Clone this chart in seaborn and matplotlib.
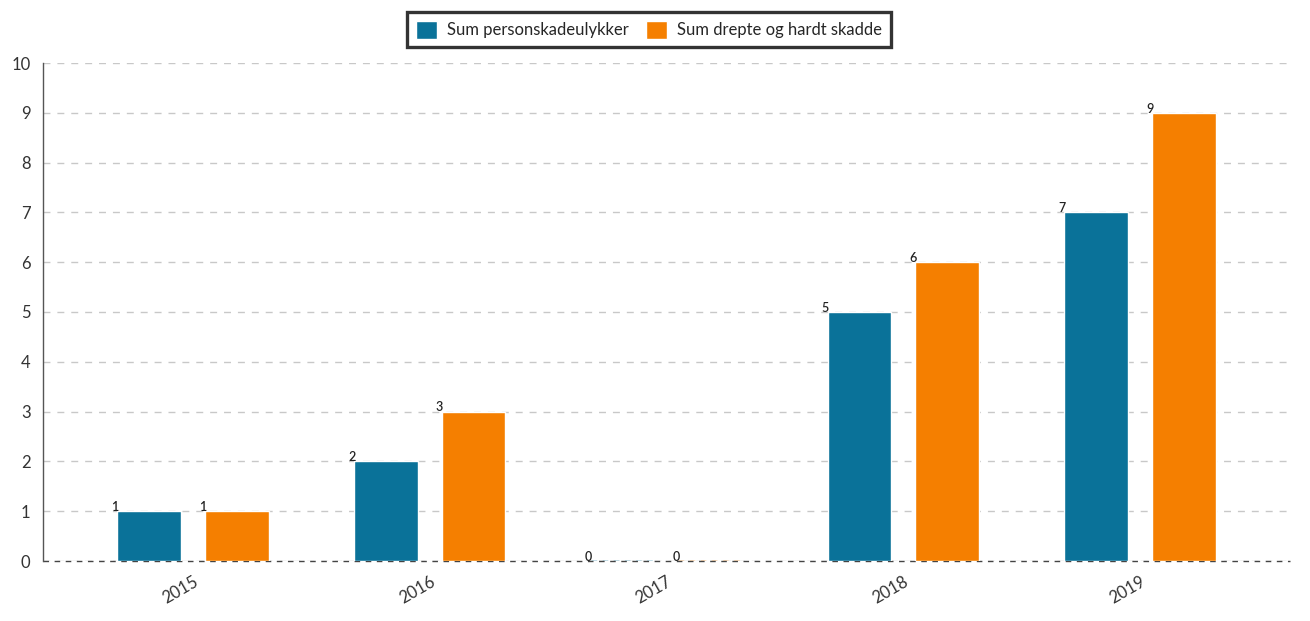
import matplotlib
matplotlib.use("Agg")
import matplotlib.pyplot as plt
import seaborn as sns
import pandas as pd

years = ["2015", "2016", "2017", "2018", "2019"]
series_names = ["Sum personskadeulykker", "Sum drepte og hardt skadde"]
personskadeulykker = [1, 2, 0, 5, 7]
drepte_hardt_skadde = [1, 3, 0, 6, 9]
y_ticks = [0, 1, 2, 3, 4, 5, 6, 7, 8, 9, 10]

colors = ["#0a7299", "#f57f00"]

df = pd.DataFrame({
    "year": years * 2,
    "series": [series_names[0]] * len(years) + [series_names[1]] * len(years),
    "value": personskadeulykker + drepte_hardt_skadde,
})

sns.set_style("white")
plt.rcParams["font.family"] = ["Lato", "DejaVu Sans"]

fig = plt.figure(figsize=(13.1, 6.21), dpi=100)
ax = fig.add_axes([43 / 1310, 1 - 561 / 621, (1290 - 43) / 1310, (561 - 63) / 621])

sns.barplot(data=df, x="year", y="value", hue="series", order=years,
            hue_order=series_names, palette=colors, width=0.74, gap=0.27,
            saturation=1, ax=ax, errorbar=None, legend=True)

ax.set_xlim(-0.633, 4.633)
ax.set_ylim(0, 10)
ax.set_yticks(y_ticks)
ax.set_xlabel("")
ax.set_ylabel("")

ax.yaxis.grid(True, color="#c8c8c8", linestyle=(0, (5, 5)), linewidth=1)
ax.set_axisbelow(True)
for s in ["top", "right", "bottom"]:
    ax.spines[s].set_visible(False)
ax.spines["left"].set_color("#555555")
ax.spines["left"].set_linewidth(1)
ax.axhline(0, color="#444444", linestyle=(0, (4, 4)), linewidth=1, zorder=0.9,
           clip_on=False)

ax.tick_params(axis="y", length=5, color="#555555", labelsize=12, labelcolor="#333333", pad=4)
ax.tick_params(axis="x", length=5, color="#555555", labelsize=12, labelcolor="#333333", pad=4, direction="out")
for lbl in ax.get_xticklabels():
    lbl.set_rotation(30)
    lbl.set_rotation_mode("anchor")
    lbl.set_ha("right")
    lbl.set_va("top")

for cont in ax.containers:
    for p in cont.patches:
        h = p.get_height()
        if h == 0:
            p.set_edgecolor(p.get_facecolor())
            p.set_linestyle((0, (4, 4)))
            p.set_linewidth(1)
            p.set_alpha(0.6)
        ax.annotate(f"{int(round(h))}", (p.get_x(), h), xytext=(1, 3),
                    textcoords="offset points", ha="right", va="center",
                    fontsize=9, color="#222222", fontweight="semibold")

leg = ax.legend(loc="upper center", bbox_to_anchor=(0.486, 1.102), ncol=2,
                frameon=True, fancybox=False, fontsize=12, handlelength=1.3,
                handleheight=1.3, handletextpad=0.6, columnspacing=1.0,
                borderpad=0.5, borderaxespad=0, edgecolor="black")
leg.get_frame().set_linewidth(2.4)
leg.set_title(None)

fig.savefig("out.png", dpi=100)
